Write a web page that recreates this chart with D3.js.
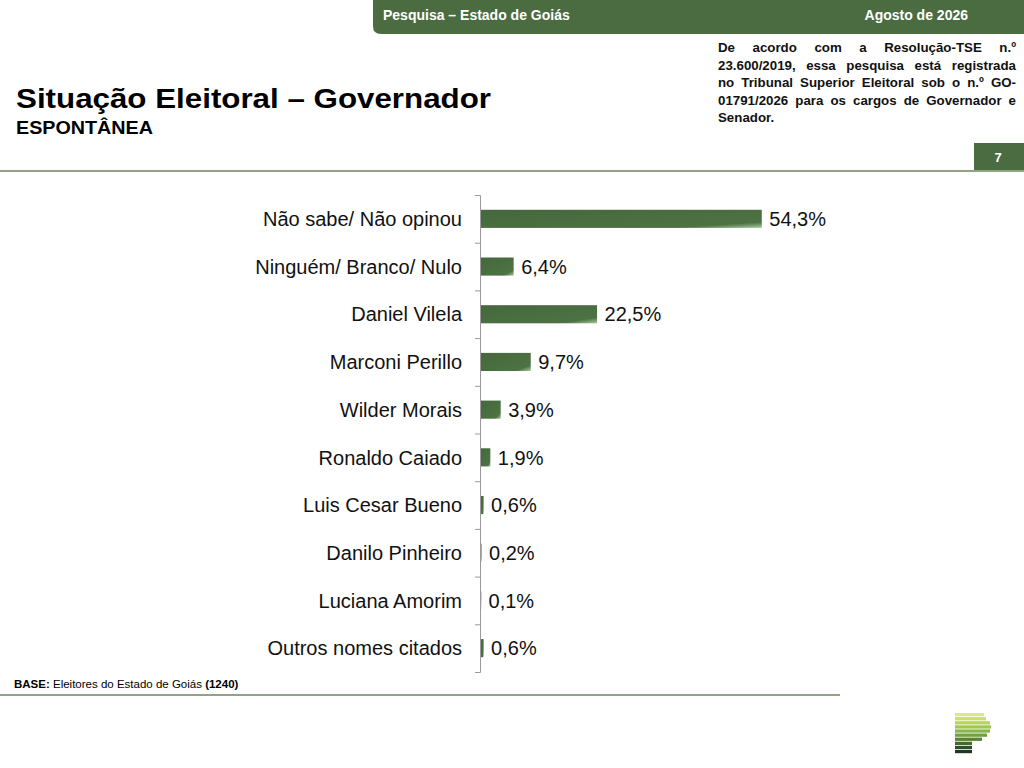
<!DOCTYPE html>
<html>
<head>
<meta charset="utf-8">
<script src="https://cdn.jsdelivr.net/npm/d3@7"></script>
<style>
  body { margin: 0; background: #fff; }
  svg { display: block; font-family: "Liberation Sans", Arial, sans-serif; }
</style>
</head>
<body>
<svg id="chart" width="1024" height="768"></svg>
<script>
// DATA
var categories = [
  "Não sabe/ Não opinou",
  "Ninguém/ Branco/ Nulo",
  "Daniel Vilela",
  "Marconi Perillo",
  "Wilder Morais",
  "Ronaldo Caiado",
  "Luis Cesar Bueno",
  "Danilo Pinheiro",
  "Luciana Amorim",
  "Outros nomes citados"
];
var values = [54.3, 6.4, 22.5, 9.7, 3.9, 1.9, 0.6, 0.2, 0.1, 0.6];
var valueLabels = ["54,3%", "6,4%", "22,5%", "9,7%", "3,9%", "1,9%", "0,6%", "0,2%", "0,1%", "0,6%"];

var headerLeft = "Pesquisa – Estado de Goiás";
var headerRight = "Agosto de 2026";
var title = "Situação Eleitoral – Governador";
var subtitle = "ESPONTÂNEA";
var pageNumber = "7";
var noteLines = [
  "De acordo com a Resolução-TSE n.º",
  "23.600/2019, essa pesquisa está registrada",
  "no Tribunal Superior Eleitoral sob o n.º GO-",
  "01791/2026 para os cargos de Governador e",
  "Senador."
];
var logoColors = ["#dce68f", "#cade72", "#b8d45e", "#a0c850", "#88b948", "#6fa041", "#578338", "#426a31", "#2f5028", "#1f3a1e"];
var logoWidths = [29, 31, 35, 36, 35, 32, 27, 17, 17, 17];

var svg = d3.select("#chart");
var green = "#4b6b40";

// HEADER
svg.append("path")
  .attr("d", "M373,0 H1024 V34 H381 Q373,34 373,26 Z")
  .attr("fill", green);
svg.append("text").attr("x", 383).attr("y", 20)
  .attr("fill", "#fff").attr("font-size", 14).attr("font-weight", "bold")
  .text(headerLeft);
svg.append("text").attr("x", 968).attr("y", 20).attr("text-anchor", "end")
  .attr("fill", "#fff").attr("font-size", 14).attr("font-weight", "bold")
  .text(headerRight);

// title glyphs are a bit wider than Liberation Sans, so stretch them
svg.append("text").attr("x", 16).attr("y", 108)
  .attr("font-size", 28).attr("font-weight", "bold").attr("fill", "#000")
  .attr("textLength", 475).attr("lengthAdjust", "spacingAndGlyphs")
  .text(title);
svg.append("text").attr("x", 16).attr("y", 134)
  .attr("font-size", 18).attr("font-weight", "bold").attr("fill", "#000")
  .attr("textLength", 137).attr("lengthAdjust", "spacingAndGlyphs")
  .text(subtitle);

// justified note on the right
var noteLeft = 718, noteRight = 1016;
noteLines.forEach(function(line, i) {
  var ly = 52 + i * 17.5;
  var words = line.split(" ");
  var g = svg.append("g");
  var nodes = words.map(function(w) {
    return g.append("text").attr("y", ly).attr("font-size", 13.3)
      .attr("font-weight", "bold").attr("fill", "#111").text(w);
  });
  var widths = nodes.map(function(n) { return n.node().getComputedTextLength(); });
  var total = d3.sum(widths);
  var last = i === noteLines.length - 1;
  var gap = last ? 3.7 : (noteRight - noteLeft - total) / (words.length - 1);
  var cx = noteLeft;
  nodes.forEach(function(n, j) {
    n.attr("x", cx);
    cx += widths[j] + gap;
  });
});

svg.append("rect").attr("x", 974).attr("y", 143).attr("width", 50).attr("height", 28)
  .attr("fill", green);
svg.append("text").attr("x", 998).attr("y", 162).attr("text-anchor", "middle")
  .attr("fill", "#fff").attr("font-size", 13).attr("font-weight", "bold")
  .text(pageNumber);

svg.append("line").attr("x1", 0).attr("x2", 1024).attr("y1", 171).attr("y2", 171)
  .attr("stroke", "#93a283").attr("stroke-width", 2);

// CHART
var x0 = 480, chartTop = 195, chartBottom = 672;
var x = d3.scaleLinear().domain([0, 100]).range([x0, x0 + 518]);
var y = d3.scaleBand().domain(categories).range([chartTop, chartBottom]).paddingInner(0.62).paddingOuter(0.31);

var grad = svg.append("defs").append("linearGradient").attr("id", "barGrad")
  .attr("x1", "0").attr("y1", "0").attr("x2", "1").attr("y2", "1");
grad.append("stop").attr("offset", "0").attr("stop-color", "#44683b");
grad.append("stop").attr("offset", "0.84").attr("stop-color", "#4d7243");
grad.append("stop").attr("offset", "1").attr("stop-color", "#a9c9a0");

svg.selectAll(".bar").data(values).enter().append("rect")
  .attr("class", "bar")
  .attr("x", x(0) + 0.5)
  .attr("y", function(d, i) { return y(categories[i]); })
  .attr("width", function(d) { return Math.max(x(d) - x(0), 0.8); })
  .attr("height", y.bandwidth())
  .attr("fill", "url(#barGrad)");

svg.selectAll(".val").data(values).enter().append("text")
  .attr("class", "val")
  .attr("x", function(d) { return x(d) + 8; })
  .attr("y", function(d, i) { return y(categories[i]) + y.bandwidth() / 2; })
  .attr("dy", "0.36em")
  .attr("font-size", 20).attr("fill", "#111")
  .text(function(d, i) { return valueLabels[i]; });

svg.selectAll(".cat").data(categories).enter().append("text")
  .attr("class", "cat")
  .attr("x", 462)
  .attr("y", function(d) { return y(d) + y.bandwidth() / 2; })
  .attr("dy", "0.36em")
  .attr("text-anchor", "end")
  .attr("font-size", 20).attr("fill", "#111")
  .text(function(d) { return d; });

// axis with ticks at band edges
var edges = d3.scaleLinear().domain([0, categories.length]).range([chartTop, chartBottom]);
var axis = svg.append("g").attr("transform", "translate(" + x0 + ",0)")
  .call(d3.axisLeft(edges).ticks(categories.length).tickFormat("").tickSize(5));
axis.selectAll("line, path").attr("stroke", "#9a9a9a");

// FOOTER
svg.append("text").attr("x", 14).attr("y", 688).attr("font-size", 11.5).attr("fill", "#000")
  .call(function(t) {
    t.append("tspan").attr("font-weight", "bold").text("BASE:");
    t.append("tspan").text(" Eleitores do Estado de Goiás ");
    t.append("tspan").attr("font-weight", "bold").text("(1240)");
  });
svg.append("line").attr("x1", 0).attr("x2", 840).attr("y1", 695).attr("y2", 695)
  .attr("stroke", "#93a283").attr("stroke-width", 2);

// logo stripes
svg.selectAll(".logo").data(logoColors).enter().append("rect")
  .attr("class", "logo")
  .attr("x", 955)
  .attr("y", function(d, i) { return 713 + i * 4.1; })
  .attr("width", function(d, i) { return logoWidths[i]; })
  .attr("height", 3.3)
  .attr("fill", function(d) { return d; });
</script>
</body>
</html>
